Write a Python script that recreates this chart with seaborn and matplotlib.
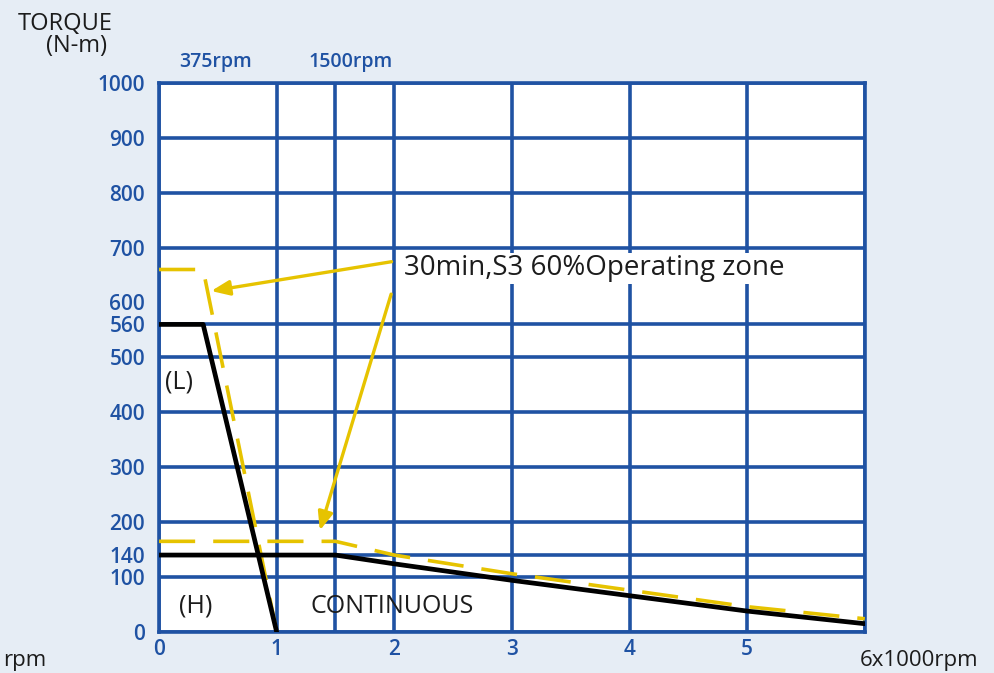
import pandas as pd
import numpy as np
import seaborn as sns
import matplotlib.pyplot as plt

# speed in x1000 rpm, torque in N-m
s3_L_speed = [0, 0.375, 1.0]
s3_L_torque = [660, 660, 0]
cont_L_speed = [0, 0.375, 1.0]
cont_L_torque = [560, 560, 0]
s3_H_speed = [0, 1.5, 2, 3, 4, 5, 6]
s3_H_torque = [165, 165, 140, 106, 76, 46, 24]
cont_H_speed = [0, 1.5, 2, 3, 4, 5, 6]
cont_H_torque = [140, 140, 124, 94, 66, 38, 15]

y_ticks = [0, 100, 140, 200, 300, 400, 500, 560, 600, 700, 800, 900, 1000]
y_grid = [0, 100, 140, 200, 300, 400, 500, 560, 700, 800, 900, 1000]
x_ticks = [0, 1, 2, 3, 4, 5]
x_grid = [0, 1, 1.5, 2, 3, 4, 5, 6]

bg = '#e6edf5'
blue = '#1f52a3'
yellow = '#e6c300'
ink = '#1c1c1c'

sns.set_style('white')
plt.rcParams['font.family'] = ['Open Sans', 'DejaVu Sans']

fig = plt.figure(figsize=(9.94, 6.73), dpi=100, facecolor=bg)
ax = fig.add_axes([0.160, 0.061, 0.710, 0.816])
ax.set_facecolor('white')

for g in x_grid:
    ax.axvline(g, color=blue, lw=2.6, zorder=1)
for g in y_grid:
    ax.axhline(g, color=blue, lw=2.6, zorder=1)

curves = pd.concat([
    pd.DataFrame({'speed': s3_L_speed, 'torque': s3_L_torque, 'curve': 's3L'}),
    pd.DataFrame({'speed': s3_H_speed, 'torque': s3_H_torque, 'curve': 's3H'}),
])
sns.lineplot(data=curves, x='speed', y='torque', units='curve', estimator=None,
             sort=False, color=yellow, lw=2.6, dashes=False, ax=ax, zorder=3)
for line in ax.lines[-2:]:
    line.set_dashes([10, 5])

cont = pd.concat([
    pd.DataFrame({'speed': cont_L_speed, 'torque': cont_L_torque, 'curve': 'cL'}),
    pd.DataFrame({'speed': cont_H_speed, 'torque': cont_H_torque, 'curve': 'cH'}),
])
sns.lineplot(data=cont, x='speed', y='torque', units='curve', estimator=None,
             sort=False, color='black', lw=3.4, ax=ax, zorder=4)

ax.set_xlim(0, 6)
ax.set_ylim(0, 1000)
ax.set_xticks(x_ticks)
ax.set_yticks(y_ticks)
ax.tick_params(axis='both', colors=blue, labelsize=15, length=0)
ax.tick_params(axis='y', pad=10)
ax.tick_params(axis='x', pad=5)
for lab in ax.get_xticklabels() + ax.get_yticklabels():
    lab.set_fontweight('semibold')
ax.set_xlabel('')
ax.set_ylabel('')
for sp in ax.spines.values():
    sp.set_color(blue)
    sp.set_linewidth(2.6)

txt = dict(color=ink, fontsize=18, va='center', fontweight='medium')
ax.text(0.05, 455, '(L)', **txt)
ax.text(0.17, 47, '(H)', **txt)
ax.text(1.29, 47, 'CONTINUOUS', **txt)
ax.text(2.08, 662, '30min,S3 60%Operating zone', color=ink, fontsize=20,
        fontweight='medium', va='center',
        bbox=dict(facecolor='white', edgecolor='none', pad=1), zorder=5)

arrow = dict(arrowstyle='-|>,head_length=1.1,head_width=0.45', color=yellow, lw=2.4)
ax.annotate('', xy=(0.42, 620), xytext=(2.0, 675), arrowprops=arrow, zorder=5)
ax.annotate('', xy=(1.36, 180), xytext=(1.98, 620), arrowprops=arrow, zorder=5)

ax.text(0.48, 1037, '375rpm', color=blue, fontsize=14, fontweight='semibold',
        ha='center', va='center')
ax.text(1.63, 1037, '1500rpm', color=blue, fontsize=14, fontweight='semibold',
        ha='center', va='center')

fig.text(0.066, 0.965, 'TORQUE', fontsize=17, color=ink, ha='center', va='center',
         fontweight='medium')
fig.text(0.077, 0.931, '(N-m)', fontsize=17, color=ink, ha='center', va='center',
         fontweight='medium')
fig.text(0.003, 0.018, 'rpm', fontsize=16, color=ink, ha='left', va='center')
fig.text(0.925, 0.018, '6x1000rpm', fontsize=16, color=ink, ha='center', va='center')

fig.savefig('out.png', dpi=100, facecolor=bg)
